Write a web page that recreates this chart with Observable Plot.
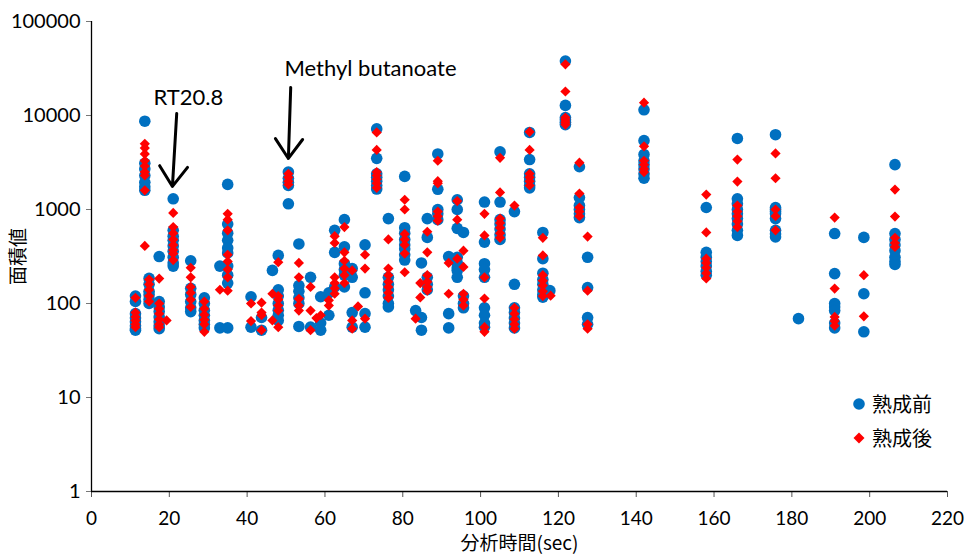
<!DOCTYPE html>
<html><head><meta charset="utf-8">
<script src="https://cdn.jsdelivr.net/npm/d3@7"></script>
<script src="https://cdn.jsdelivr.net/npm/@observablehq/plot@0.6"></script>
<style>
body{margin:0;background:#fff;}
#wrap{position:relative;width:965px;height:555px;}
.lg{position:absolute;left:852px;font-family:"Noto Sans CJK JP",sans-serif;font-size:20px;color:#000;display:flex;align-items:center;}
.lg svg{margin-right:6px;}
</style></head><body>
<div id="wrap"></div>
<script>
// x tick labels and y tick labels
const xTicks = [0,20,40,60,80,100,120,140,160,180,200,220];
const yTicks = [1,10,100,1000,10000,100000];
const seriesNames = ["熟成前","熟成後"];

// 熟成前 (before ripening): retention time per column, and peak areas in that column
const beforeTimes = [11.3,13.7,14.8,17.4,21.0,25.5,29.0,33.0,35.0,41.0,43.7,46.5,48.0,50.6,53.3,56.3,58.9,61.0,62.5,65.0,67.0,70.3,73.3,76.3,80.5,83.3,84.8,86.3,89.0,91.8,94.0,95.6,101.0,105.0,108.7,112.6,116.0,117.8,121.8,125.4,127.5,142.0,158.0,166.0,175.8,181.7,191.0,198.5,206.5];
const beforeAreas = [
  [120,105,78,70,64,58,54,52],
  [8700,3100,2700,2300,1950,1750,1600],
  [185,160,135,124,110,100],
  [316,105,92,82,72,64,58,54],
  [1300,600,520,470,410,360,310,270,250],
  [285,145,125,105,90,82],
  [115,100,85,75,66,60,55],
  [250,55],
  [1850,700,560,470,390,345,250,200,165,55],
  [118,56],
  [71,52],
  [225],
  [325,140,120,100,85,75,66],
  [2500,2150,1950,1800,1150],
  [430,155,135,115,100,57],
  [190,56],
  [118,62,52],
  [130,75],
  [600,350,150],
  [780,400,265,230,200,150],
  [235,190,80,56],
  [420,130,78,56],
  [7200,3500,2400,2200,2000,1800,1650],
  [800,190,160,140,120,100,92],
  [2250,640,560,480,420,380,330,290],
  [84],
  [270,71,52],
  [800,505,190,160,140],
  [3900,1640,1000,900,780],
  [315,78,55],
  [1270,1000,630,310,270,240,225,190],
  [570,120,100,90],
  [1200,450,265,230,190,90,75,62,56],
  [4100,1200,780,700,620,540,480],
  [950,160,90,80,70,62,55],
  [6600,3400,2400,2200,2000,1800,1700],
  [570,300,210,180,160,140,125,117],
  [137],
  [38000,12800,9500,9000,8500,8000],
  [2850,1340,1100,1000,900,820],
  [310,148,71,60],
  [11500,5400,3850,3300,3000,2700,2400,2150],
  [1050,350,310,280,250,220,200],
  [5700,1300,1150,1000,900,800,700,600,530],
  [6250,1050,1000,950,900,800,600,550,510],
  [69],
  [555,208,100,92,84,62,55],
  [505,127,50],
  [3000,555,480,420,365,310,280,260]
];

// 熟成後 (after ripening)
const afterTimes = [11.3,13.7,14.8,17.4,19.3,21.0,25.5,29.0,33.0,35.0,41.0,43.7,46.5,48.0,50.6,53.3,56.3,57.8,58.9,61.0,62.5,65.0,67.0,68.5,70.3,73.3,76.3,80.5,83.3,84.5,86.3,89.0,91.8,94.0,95.6,101.0,105.0,108.7,112.6,116.0,118.0,121.8,125.4,127.5,142.0,158.0,166.0,175.8,191.0,198.5,206.5];
const afterAreas = [
  [115,80,72,66,60,56],
  [5000,4500,3900,3300,2900,2500,2300,1600,410],
  [180,160,140,120,105],
  [184,100,88,78,68,60,56],
  [66],
  [920,650,560,480,420,370,340,290],
  [240,190,150,130,110,92],
  [105,88,76,67,60,50],
  [140],
  [900,780,600,330,280,230,190,137],
  [100,65],
  [102,80,75,52],
  [127,66],
  [275,120,110,95,84,56],
  [2400,2200,2000,1850],
  [270,190,112,95,84],
  [150,84,52],
  [70],
  [75],
  [108,95],
  [520,440,190,165,145,127],
  [650,350,285,235,200,165],
  [225,66,54],
  [93],
  [330,235,69],
  [6600,4300,2500,2300,2100,1900,1700],
  [480,235,200,170,150,130,115],
  [1270,1000,550,480,420,340,215],
  [69],
  [165,116],
  [580,350,200,170,150,137],
  [3300,2000,1900,950,850,760],
  [270,127],
  [1230,780,300],
  [365,245,127,110,95],
  [900,530,190,113,56,50],
  [3550,1520,800,720,640,560,500],
  [1100,90,78,68,60,54],
  [6700,4300,2400,2200,2000,1800],
  [500,325,200,175,155,135,120],
  [121],
  [35000,18000,9500,9000,8500,8000],
  [3150,1480,1050,950,850],
  [515,137,60,54],
  [13700,4700,3300,3000,2700,2500],
  [1440,570,300,270,240,210,185],
  [3400,1980,1100,950,850,750,650],
  [3950,2150,1000,850,600],
  [820,144,72,65,58],
  [200,73],
  [1630,840,500,440,400]
];

// annotations: label, label anchor, arrow start and end
const noteLabels = ["RT20.8","Methyl butanoate"];
const noteTextT = [24.9, 71.7];
const noteTextV = [15500, 31600];
const noteFromT = [21.9, 51.2];
const noteFromV = [10500, 19900];
const noteToT = [20.8, 50.6];
const noteToV = [1760, 3490];

const flatten = (times, areas) => times.flatMap((t, i) => areas[i].map(v => ({t, v})));
const before = flatten(beforeTimes, beforeAreas);
const after = flatten(afterTimes, afterAreas);
const notes = noteLabels.map((label, i) => ({label, tt: noteTextT[i], tv: noteTextV[i], x1: noteFromT[i], y1: noteFromV[i], x2: noteToT[i], y2: noteToV[i]}));

const blue = "#0070C0", red = "#FF0000";

const chart = Plot.plot({
  width: 965, height: 555,
  marginLeft: 91, marginRight: 18, marginTop: 21, marginBottom: 64,
  style: {fontFamily: "Lato, 'Noto Sans CJK JP', sans-serif", fontSize: "18px", background: "white", color: "black", overflow: "visible"},
  x: {domain: [0, 220]},
  y: {type: "log", domain: [1, 100000]},
  marks: [
    Plot.axisX({ticks: xTicks, tickSize: 6, tickPadding: 14, stroke: "#555", label: null, fontSize: 19}),
    Plot.axisX({ticks: [], label: "分析時間(sec)", labelAnchor: "center", labelArrow: "none", labelOffset: 58, fontSize: 19, fontFamily: "'Noto Sans CJK JP', sans-serif"}),
    Plot.axisY({ticks: yTicks, tickFormat: d => String(d), tickSize: 5, tickPadding: 6, stroke: "#777", label: null, fontSize: 20}),
    Plot.axisY({ticks: [], label: "面積値", labelAnchor: "center", labelArrow: "none", labelOffset: 80, fontSize: 19, fontFamily: "'Noto Sans CJK JP', sans-serif"}),
    Plot.ruleX([0], {stroke: "black", strokeWidth: 1.3}),
    Plot.ruleY([1], {stroke: "black", strokeWidth: 1.3}),
    Plot.dot(before, {x: "t", y: "v", r: 5.8, fill: blue}),
    Plot.dot(after, {x: "t", y: "v", r: 4.6, symbol: "diamond2", fill: red}),
    Plot.arrow(notes, {x1: "x1", y1: "y1", x2: "x2", y2: "y2", stroke: "black", strokeWidth: 3, headLength: 17, headAngle: 70}),
    Plot.text(notes, {x: "tt", y: "tv", text: "label", fontSize: 22, fill: "black"})
  ]
});
const wrap = document.getElementById("wrap");
wrap.appendChild(chart);

// legend inside the plot area
const lg = [
  {name: seriesNames[0], top: 389, sym: `<circle cx="7" cy="7" r="5.8" fill="${blue}"/>`},
  {name: seriesNames[1], top: 423, sym: `<path d="M7 1.5 L12.5 7 L7 12.5 L1.5 7 Z" fill="${red}"/>`}
];
for (const item of lg) {
  const d = document.createElement("div");
  d.className = "lg";
  d.style.top = item.top + "px";
  d.innerHTML = `<svg width="14" height="14">${item.sym}</svg><span>${item.name}</span>`;
  wrap.appendChild(d);
}
</script>
</body></html>
